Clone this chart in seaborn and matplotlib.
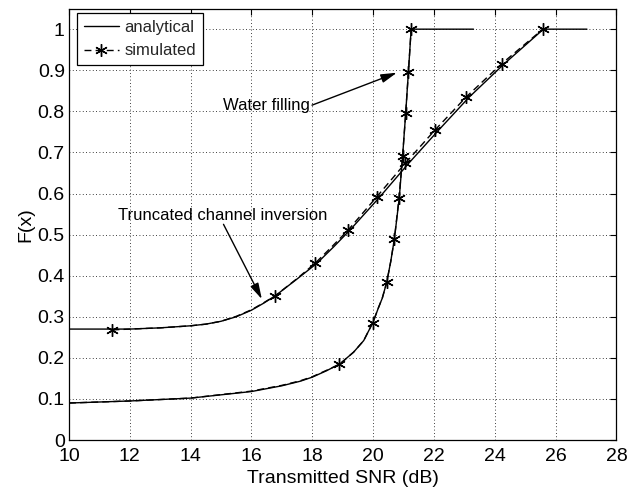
import matplotlib
matplotlib.use("Agg")
import matplotlib.pyplot as plt
from matplotlib.lines import Line2D
import seaborn as sns
import pandas as pd

# ---- data ----
tci_ana_x = [10, 12, 13, 14, 14.5, 15.0, 15.5, 16.0, 16.4, 16.8, 17.5, 18.15, 18.7, 19.25, 20.2,
             21.15, 22.15, 23.15, 24.3, 25.6, 27.03]
tci_ana_y = [0.27, 0.27, 0.273, 0.278, 0.282, 0.289, 0.300, 0.316, 0.333, 0.352, 0.392, 0.43, 0.47,
             0.512, 0.59, 0.672, 0.754, 0.834, 0.915, 1.0, 1.0]

tci_sim_x = [11.43, 12, 13, 14, 14.5, 15.0, 15.5, 16.0, 16.4, 16.78, 17.5, 18.09, 18.65, 19.19,
             20.12, 21.06, 22.04, 23.06, 24.23, 25.58]
tci_sim_y = [0.268, 0.27, 0.273, 0.278, 0.282, 0.289, 0.301, 0.317, 0.334, 0.351, 0.393, 0.43,
             0.471, 0.512, 0.592, 0.674, 0.755, 0.835, 0.916, 1.0]
tci_mark_x = [11.43, 16.78, 18.09, 19.19, 20.12, 21.06, 22.04, 23.06, 24.23, 25.58]
tci_mark_y = [0.268, 0.351, 0.43, 0.512, 0.592, 0.674, 0.755, 0.835, 0.916, 1.0]

wf_ana_x = [10, 12, 14, 16, 17, 17.6, 18, 18.48, 18.92, 19.36, 19.69, 20.0, 20.18, 20.3, 20.45,
            20.58, 20.7, 20.86, 20.97, 21.07, 21.16, 21.25, 23.30]
wf_ana_y = [0.09, 0.095, 0.102, 0.118, 0.132, 0.143, 0.153, 0.169, 0.186, 0.214, 0.242, 0.287,
            0.323, 0.345, 0.385, 0.435, 0.49, 0.59, 0.692, 0.795, 0.896, 1.0, 1.0]

wf_sim_x = [10, 12, 14, 16, 17, 17.6, 18, 18.48, 18.89, 19.36, 19.69, 19.99, 20.18, 20.3, 20.45,
            20.58, 20.70, 20.85, 20.97, 21.07, 21.16, 21.25]
wf_sim_y = [0.09, 0.095, 0.102, 0.119, 0.133, 0.144, 0.154, 0.170, 0.184, 0.214, 0.242, 0.286,
            0.323, 0.345, 0.385, 0.435, 0.49, 0.589, 0.692, 0.795, 0.896, 1.0]
wf_mark_x = [18.89, 19.99, 20.45, 20.70, 20.85, 20.97, 21.07, 21.16, 21.25]
wf_mark_y = [0.184, 0.286, 0.385, 0.49, 0.589, 0.692, 0.795, 0.896, 1.0]

x_ticks = [10, 12, 14, 16, 18, 20, 22, 24, 26, 28]
y_ticks = [0, 0.1, 0.2, 0.3, 0.4, 0.5, 0.6, 0.7, 0.8, 0.9, 1]
y_tick_labels = ["0", "0.1", "0.2", "0.3", "0.4", "0.5", "0.6", "0.7", "0.8", "0.9", "1"]

# ---- style ----
sns.set_theme(style="white")
plt.rcParams["font.family"] = ["Liberation Sans", "DejaVu Sans"]

fig = plt.figure(figsize=(6.3, 4.93), dpi=100)
ax = fig.add_axes([0.1095, 0.1075, 0.869, 0.875])

lw = 1.0
star = (6, 2, 0)

def line(x, y, ls):
    df = pd.DataFrame({"x": x, "y": y})
    sns.lineplot(data=df, x="x", y="y", ax=ax, color="black", lw=lw,
                 linestyle=ls, estimator=None, sort=False)

def marks(x, y):
    df = pd.DataFrame({"x": x, "y": y})
    sns.lineplot(data=df, x="x", y="y", ax=ax, color="black", linestyle="none",
                 marker=star, markersize=9, markeredgewidth=1.0,
                 markeredgecolor="black", estimator=None, sort=False)

line(tci_ana_x, tci_ana_y, "-")
line(tci_sim_x, tci_sim_y, (0, (5, 3)))
marks(tci_mark_x, tci_mark_y)
line(wf_ana_x, wf_ana_y, "-")
line(wf_sim_x, wf_sim_y, (0, (5, 3)))
marks(wf_mark_x, wf_mark_y)

ax.set_xlim(10, 28)
ax.set_ylim(0, 1.05)
ax.set_xticks(x_ticks)
ax.set_xticklabels([str(t) for t in x_ticks])
ax.set_yticks(y_ticks)
ax.set_yticklabels(y_tick_labels)
ax.tick_params(direction="in", length=4, width=0.8, top=True, right=True,
               labelsize=14, colors="black")
ax.tick_params(axis="x", pad=6)
ax.tick_params(axis="y", pad=3)
ax.grid(True, color="black", linestyle=(0, (1, 3)), linewidth=0.6)
for s in ax.spines.values():
    s.set_color("black")
    s.set_linewidth(0.9)

ax.set_xlabel("Transmitted SNR (dB)", fontsize=14, color="black", labelpad=3)
ax.set_ylabel("F(x)", fontsize=14, color="black", labelpad=2)

# annotations
ax.text(15.06, 0.815, "Water filling", fontsize=12, va="center", ha="left", color="black")
ax.annotate("", xy=(20.78, 0.894), xytext=(17.99, 0.815),
            arrowprops=dict(arrowstyle="-|>,head_length=0.8,head_width=0.22",
                            color="black", lw=1.0, shrinkA=0, shrinkB=0))
ax.text(11.62, 0.547, "Truncated channel inversion", fontsize=12, va="center", ha="left", color="black")
ax.annotate("", xy=(16.34, 0.343), xytext=(15.08, 0.525),
            arrowprops=dict(arrowstyle="-|>,head_length=0.8,head_width=0.22",
                            color="black", lw=1.0, shrinkA=0, shrinkB=0))

handles = [
    Line2D([], [], color="black", lw=lw, linestyle="-"),
    Line2D([], [], color="black", lw=lw, linestyle=(0, (5, 3)), marker=star,
           markersize=9, markeredgewidth=1.0),
]
leg = ax.legend(handles, ["analytical", "simulated"], loc="upper left",
                bbox_to_anchor=(0.015, 0.989), borderaxespad=0, fontsize=12,
                frameon=True, fancybox=False, edgecolor="black", framealpha=1,
                handlelength=2.1, handletextpad=0.35, labelspacing=0.5,
                borderpad=0.4, numpoints=1)
leg.get_frame().set_linewidth(0.9)

fig.savefig("out.png", dpi=100)
